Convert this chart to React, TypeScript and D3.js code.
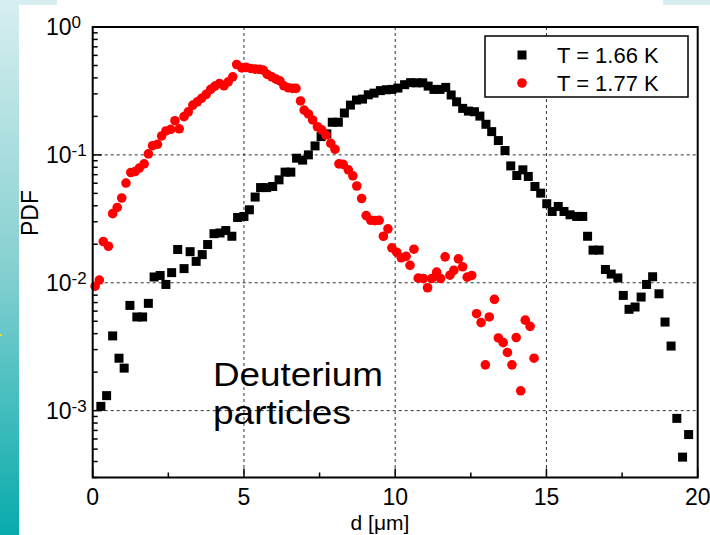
import React from "react";
import * as d3 from "d3";

const W = 710;
const H = 535;
const FONT = "'Liberation Sans', Arial, Helvetica, sans-serif";

// T = 1.66 K (black squares)
const blackX = [
  0.27, 0.46, 0.66, 0.87, 1.04, 1.23, 1.46, 1.65, 1.84, 2.03,
  2.23, 2.42, 2.61, 2.81, 3.02, 3.22, 3.42, 3.62, 3.8, 4.01,
  4.21, 4.4, 4.6, 4.79, 5.0, 5.18, 5.37, 5.55, 5.75, 5.95,
  6.16, 6.36, 6.55, 6.74, 6.94, 7.13, 7.35, 7.55, 7.74, 7.92,
  8.12, 8.32, 8.52, 8.72, 8.92, 9.11, 9.3, 9.51, 9.71, 9.89,
  10.09, 10.31, 10.51, 10.7, 10.91, 11.09, 11.28, 11.48, 11.67, 11.85,
  12.03, 12.23, 12.42, 12.62, 12.8, 13.0, 13.19, 13.41, 13.63, 13.82,
  14.02, 14.22, 14.4, 14.62, 14.81, 15.01, 15.19, 15.39, 15.58, 15.78,
  16.0, 16.2, 16.36, 16.54, 16.74, 16.95, 17.14, 17.36, 17.54, 17.73,
  17.93, 18.13, 18.31, 18.51, 18.72, 18.92, 19.12, 19.31, 19.5, 19.7,
];
const blackY = [
  0.00108, 0.00131, 0.00384, 0.00257, 0.00215, 0.00665, 0.0054, 0.0054, 0.0069, 0.0111,
  0.0114, 0.0097, 0.012, 0.0182, 0.0129, 0.0175, 0.0147, 0.0166, 0.0199, 0.0242,
  0.0245, 0.0256, 0.0231, 0.0324, 0.033, 0.0372, 0.0468, 0.0555, 0.0555, 0.0566,
  0.0638, 0.0733, 0.0733, 0.0942, 0.091, 0.1, 0.1175, 0.139, 0.146, 0.18,
  0.18, 0.2125, 0.245, 0.2685, 0.273, 0.295, 0.304, 0.318, 0.323, 0.325,
  0.333, 0.354, 0.367, 0.366, 0.366, 0.345, 0.325, 0.325, 0.337, 0.294,
  0.26, 0.231, 0.22, 0.2175, 0.201, 0.1735, 0.152, 0.1294, 0.1081, 0.082,
  0.069, 0.0764, 0.0678, 0.0566, 0.0502, 0.0415, 0.0361, 0.0395, 0.0361, 0.034,
  0.033, 0.033, 0.0231, 0.018, 0.018, 0.0127, 0.0117, 0.0109, 0.00796, 0.0062,
  0.00646, 0.00773, 0.0097, 0.01114, 0.0082, 0.00493, 0.0032, 0.00087, 0.000433, 0.00065,
];

// T = 1.77 K (red circles)
const redX = [
  0.08, 0.22, 0.35, 0.52, 0.66, 0.81, 0.96, 1.1, 1.26, 1.4,
  1.54, 1.7, 1.84, 1.98, 2.14, 2.28, 2.42, 2.58, 2.72, 2.86,
  3.02, 3.16, 3.31, 3.46, 3.6, 3.75, 3.9, 4.04, 4.19, 4.34,
  4.48, 4.63, 4.76, 4.93, 5.07, 5.22, 5.37, 5.51, 5.64, 5.77,
  5.92, 6.06, 6.19, 6.32, 6.47, 6.61, 6.72, 6.87, 6.99, 7.13,
  7.27, 7.43, 7.57, 7.71, 7.87, 8.01, 8.14, 8.28, 8.45, 8.6,
  8.73, 8.89, 9.04, 9.19, 9.33, 9.47, 9.61, 9.76, 9.89, 10.05,
  10.2, 10.36, 10.49, 10.62, 10.76, 10.93, 11.07, 11.21, 11.37, 11.5,
  11.65, 11.81, 11.94, 12.09, 12.23, 12.38, 12.53, 12.69, 12.84, 12.98,
  13.11, 13.28, 13.41, 13.57, 13.71, 13.86, 14.0, 14.15, 14.3, 14.46,
  14.59,
];
const redY = [
  0.0094, 0.0105, 0.021, 0.0193, 0.0347, 0.0388, 0.046, 0.0602, 0.0728, 0.0741,
  0.0788, 0.0851, 0.1018, 0.118, 0.121, 0.1406, 0.1538, 0.1585, 0.185, 0.16,
  0.199, 0.217, 0.245, 0.26, 0.277, 0.297, 0.325, 0.345, 0.362, 0.347,
  0.373, 0.408, 0.509, 0.479, 0.483, 0.474, 0.468, 0.466, 0.46, 0.426,
  0.408, 0.391, 0.379, 0.347, 0.335, 0.331, 0.331, 0.264, 0.224, 0.209,
  0.1875, 0.166, 0.157, 0.143, 0.123, 0.1107, 0.0851, 0.0843, 0.0764, 0.0686,
  0.0571, 0.0456, 0.0335, 0.0308, 0.0306, 0.0308, 0.0231, 0.0264, 0.01875, 0.01733,
  0.01567, 0.0161, 0.0137, 0.0183, 0.01086, 0.0108, 0.00914, 0.0108, 0.0121, 0.0108,
  0.01595, 0.01146, 0.01253, 0.01538, 0.01333, 0.01106, 0.0114, 0.00573, 0.00488, 0.00228,
  0.0054, 0.00741, 0.0037, 0.0034, 0.00285, 0.00228, 0.00373, 0.00143, 0.0051, 0.00456,
  0.00257,
];

const xTicks = [0, 5, 10, 15, 20];
const xMinorTicks = [2.5, 7.5, 12.5, 17.5];
const yExponents = [0, -1, -2, -3];
const seriesLabels = ["T = 1.66 K", "T = 1.77 K"];
const xAxisTitle = "d [\u03bcm]";
const yAxisTitle = "PDF";
const annotation = ["Deuterium", "particles"];

export default function App() {
  const left = 92.7;
  const right = 697.7;
  const top = 27;
  const bottom = 477.5;
  const x = d3.scaleLinear().domain([0, 20]).range([left, right]);
  const y = d3.scaleLog().domain([3e-4, 1]).range([bottom, top]);

  const minorY: number[] = [];
  for (let e = -4; e <= -1; e++) {
    for (let k = 2; k <= 9; k++) {
      const v = k * Math.pow(10, e);
      if (v > 3e-4 && v < 1) minorY.push(v);
    }
  }

  const black = blackX.map((d, i) => [d, blackY[i]] as [number, number]);
  const red = redX.map((d, i) => [d, redY[i]] as [number, number]);
  const sq = 9;
  const r = 4.8;

  return (
    <div style={{ position: "absolute", left: 0, top: 0, width: W, height: H }}>
      <svg width={W} height={H} style={{ display: "block" }} fontFamily={FONT}>
        <defs>
          <linearGradient id="bg" x1="0" y1="0" x2="0" y2="1">
            <stop offset="0" stopColor="#d8eff0" />
            <stop offset="0.5" stopColor="#86d0d1" />
            <stop offset="1" stopColor="#08abac" />
          </linearGradient>
        </defs>
        <rect x={0} y={0} width={W} height={H} fill="#ffffff" />
        <rect x={0} y={0} width={19} height={H} fill="url(#bg)" />
        <rect x={0} y={0} width={57} height={5} fill="#d6eeef" />
        <rect x={663} y={0} width={47} height={5} fill="#d6eeef" />
        <rect x={0} y={334} width={2} height={2} fill="#f0e020" />

        {/* grid */}
        <g stroke="#333" strokeWidth={1} strokeDasharray="3,3">
          {xTicks.slice(1, -1).map((t) => (
            <line key={"gx" + t} x1={x(t)} x2={x(t)} y1={top} y2={bottom} />
          ))}
          {yExponents.slice(1).map((e) => (
            <line key={"gy" + e} x1={left} x2={right} y1={y(Math.pow(10, e))} y2={y(Math.pow(10, e))} />
          ))}
        </g>

        {/* ticks */}
        <g stroke="#000" strokeWidth={1.5}>
          {minorY.map((v) => (
            <line key={"my" + v} x1={left} x2={left + 5} y1={y(v)} y2={y(v)} />
          ))}
          {yExponents.map((e) => (
            <line key={"My" + e} x1={left} x2={left + 9} y1={y(Math.pow(10, e))} y2={y(Math.pow(10, e))} />
          ))}
          {xTicks.map((t) => (
            <line key={"Mx" + t} x1={x(t)} x2={x(t)} y1={bottom} y2={bottom - 9} />
          ))}
          {xMinorTicks.map((t) => (
            <line key={"mx" + t} x1={x(t)} x2={x(t)} y1={bottom} y2={bottom - 5} />
          ))}
        </g>

        {/* data */}
        <g fill="#000">
          {black.map(([a, b], i) => (
            <rect key={"b" + i} x={x(a) - sq / 2} y={y(b) - sq / 2} width={sq} height={sq} />
          ))}
        </g>
        <g fill="#ff0000">
          {red.map(([a, b], i) => (
            <circle key={"r" + i} cx={x(a)} cy={y(b)} r={r} />
          ))}
        </g>

        {/* frame */}
        <rect x={left} y={top} width={right - left} height={bottom - top} fill="none" stroke="#000" strokeWidth={2} />

        {/* tick labels */}
        <g fontSize={23} fill="#000">
          {xTicks.map((t) => (
            <text key={"xl" + t} x={x(t)} y={505} textAnchor="middle">
              {t}
            </text>
          ))}
          {yExponents.map((e) => (
            <text key={"yl" + e} x={46} y={y(Math.pow(10, e)) + 8}>
              <tspan>10</tspan>
              <tspan fontSize={17} dy={-7}>
                {e === 0 ? "0" : "-" + Math.abs(e)}
              </tspan>
            </text>
          ))}
        </g>

        {/* axis titles */}
        <text x={380} y={530} fontSize={21} textAnchor="middle" fill="#000">
          {xAxisTitle}
        </text>
        <text
          transform="translate(38,213) rotate(-90)"
          fontSize={23}
          textAnchor="middle"
          fill="#000"
        >
          {yAxisTitle}
        </text>

        {/* annotation */}
        <text x={213} y={386} fontSize={34} fill="#000" textLength={170} lengthAdjust="spacingAndGlyphs">
          {annotation[0]}
        </text>
        <text x={213} y={424} fontSize={34} fill="#000" textLength={138} lengthAdjust="spacingAndGlyphs">
          {annotation[1]}
        </text>

        {/* legend */}
        <rect x={485} y={36} width={203} height={61} fill="#fff" stroke="#000" strokeWidth={1.5} />
        <rect x={522 - sq / 2} y={55 - sq / 2} width={sq} height={sq} fill="#000" />
        <circle cx={522} cy={83} r={r} fill="#ff0000" />
        <text x={557} y={63} fontSize={22} fill="#000">
          {seriesLabels[0]}
        </text>
        <text x={557} y={91} fontSize={22} fill="#000">
          {seriesLabels[1]}
        </text>
      </svg>
    </div>
  );
}
